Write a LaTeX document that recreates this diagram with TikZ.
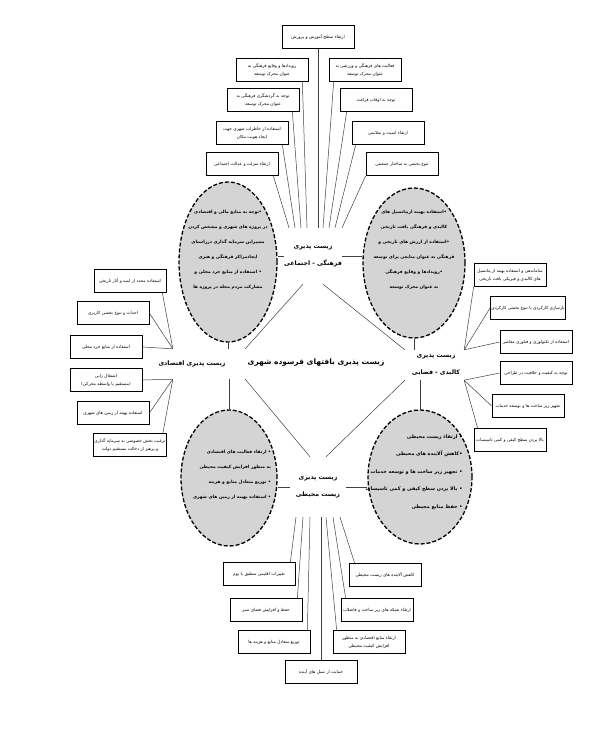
\documentclass[tikz,border=0pt]{standalone}
\usepackage{fontspec}
\usepackage{tikz}
\usetikzlibrary{shapes.geometric}
\newfontfamily\arabicfont[Script=Arabic]{DejaVu Sans}
\TeXXeTstate=1
\newcommand{\rl}[1]{\beginR #1\endR}

\begin{document}
\begin{tikzpicture}[x=1pt,y=-1pt,
    box/.style={draw,line width=0.7pt,minimum width=72pt,minimum height=23pt,inner sep=1pt,align=center,font=\arabicfont\fontsize{4.3}{8}\selectfont},
    blob/.style={ellipse,draw,dash pattern=on 4pt off 2pt,line width=1.3pt,fill=black!17,inner sep=0pt},
    blobtext/.style={inner sep=0pt,font=\arabicfont\bfseries\fontsize{4.4}{15}\selectfont},
    dim/.style={inner sep=0pt,align=center,font=\arabicfont\bfseries\fontsize{6.2}{17}\selectfont},
    link/.style={black!75,line width=0.5pt}]
  \useasboundingbox (0,0) rectangle (597,737);
  \fill[white] (0,0) rectangle (597,737);

  \node[font=\arabicfont\bfseries\fontsize{7.5}{10}\selectfont] (title) at (316,363) {\rl{زیست پذیری بافتهای فرسوده شهری}};

  \node[dim,minimum width=52pt,minimum height=56pt] (top) at (313,256) {\rl{زیست پذیری}\\\rl{فرهنگی - اجتماعی}};
  \node[dim,minimum width=106pt,minimum height=30pt] (ln) at (192,364) {\rl{زیست پذیری اقتصادی}};
  \node[dim,minimum width=62pt,minimum height=30pt] (rn) at (436,365) {\rl{زیست پذیری}\\\rl{کالبدی - فضایی}};
  \node[dim,minimum width=56pt,minimum height=60pt] (bot) at (318,487) {\rl{زیست پذیری}\\\rl{زیست محیطی}};

  \draw[link] (ln.north east) -- ([xshift=-10pt]top.south);
  \draw[link] (rn.north west) -- ([xshift=10pt]top.south);
  \draw[link] (ln.south east) -- ([xshift=-8pt]bot.north);
  \draw[link] (rn.south west) -- ([xshift=8pt]bot.north);

  % dashed ellipses
  \node[blob,minimum width=98pt,minimum height=160pt] (tl) at (228,262) {};
  \node[blob,minimum width=102pt,minimum height=150pt] (tr) at (414,263) {};
  \node[blob,minimum width=96pt,minimum height=136pt] (bl) at (229,478) {};
  \node[blob,minimum width=104pt,minimum height=134pt] (br) at (420,477) {};

  \node[blobtext,align=center] (tltext) at (228,250) {\rl{•توجه به منابع مالی و اقتصادی}\\\rl{در پروژه های شهری و مشخص کردن}\\\rl{مسیراین سرمایه گذاری درراستای}\\\rl{ایجادمراکز فرهنگی و هنری}\\\rl{• استفاده از منابع خرد محلی و}\\\rl{مشارکت مردم محله در پروژه ها}};
  \node[blobtext,align=center] (trtext) at (414,250) {\rl{•استفاده بهینه ازپتانسیل های}\\\rl{کالبدی و فرهنگی بافت تاریخی}\\\rl{•استفاده از ارزش های تاریخی و}\\\rl{فرهنگی به عنوان منابعی برای توسعه}\\\rl{•رویدادها و وقایع فرهنگی}\\\rl{به عنوان محرک توسعه}};
  \node[blobtext,align=right] (bltext) at (232,475) {\rl{• ارتقاء فعالیت های اقتصادی}\\\rl{به منظور افزایش کیفیت محیطی}\\\rl{• توزیع متعادل منابع و هزینه}\\\rl{• استفاده بهینه از زمین های شهری}};
  \node[blobtext,align=right,font=\arabicfont\bfseries\fontsize{4.9}{17.5}\selectfont] (brtext) at (414,472) {\rl{• ارتقاء زیست محیطی}\\\rl{•کاهش آلاینده های محیطی}\\\rl{• تجهیز زیر ساخت ها و توسعه خدمات}\\\rl{• بالا بردن سطح کیفی و کمی تاسیسات}\\\rl{• حفظ منابع محیطی}};

  \draw[link] (top.west) -- (top.west -| tl.east);
  \draw[link] (top.east) -- (top.east -| tr.west);
  \draw[link] (bot.west) -- (bot.west -| bl.east);
  \draw[link] (bot.east) -- (bot.east -| br.west);
  \draw[link] (tl.south) -- (tl.south |- ln.north);
  \draw[link] (bl.north) -- (bl.north |- ln.south);
  \draw[link] (tr.south) -- (tr.south |- rn.north);
  \draw[link] (br.north) -- (br.north |- rn.south);

  % cultural - social
  \node[box] (t0) at (318,37) {\rl{ارتقاء سطح آموزش و پرورش}};
  \node[box] (l1) at (272,70) {\rl{رویدادها و وقایع فرهنگی به}\\\rl{عنوان محرک توسعه}};
  \node[box] (l2) at (263,100) {\rl{توجه به گردشگری فرهنگی به}\\\rl{عنوان محرک توسعه}};
  \node[box] (l3) at (252,133) {\rl{استفاده از خاطرات شهری جهت}\\\rl{ایجاد هویت مکان}};
  \node[box] (l4) at (242,164) {\rl{ارتقاء منزلت و عدالت اجتماعی}};
  \node[box] (r1) at (365,70) {\rl{فعالیت های فرهنگی و ورزشی به}\\\rl{عنوان محرک توسعه}};
  \node[box] (r2) at (376,100) {\rl{توجه به اوقات فراغت}};
  \node[box] (r3) at (388,133) {\rl{ارتقاء امنیت و سلامتی}};
  \node[box] (r4) at (402,164) {\rl{تنوع بخشی به ساختار جمعیتی}};

  \draw[link] (t0.south) -- (t0.south |- top.north);
  \draw[link] ([xshift=-6pt]l1.south east) -- ([xshift=-6pt]top.north);
  \draw[link] ([xshift=-7pt]l2.south east) -- ([xshift=-12pt]top.north);
  \draw[link] ([xshift=-6pt]l3.south east) -- ([xshift=-18pt]top.north);
  \draw[link] ([xshift=-5pt]l4.south east) -- ([xshift=-24pt]top.north);
  \draw[link] ([xshift=5pt]r1.south west) -- ([xshift=10pt]top.north);
  \draw[link] ([xshift=7pt]r2.south west) -- ([xshift=16pt]top.north);
  \draw[link] ([xshift=4pt]r3.south west) -- ([xshift=22pt]top.north);
  \draw[link] (r4.south west) -- (top.north east);

  % economic
  \node[box] (e1) at (130,281) {\rl{استفاده مجدد از ابنیه و آثار تاریخی}};
  \node[box] (e2) at (113,313) {\rl{احداث و تنوع بخشی کاربری}};
  \node[box] (e3) at (106,347) {\rl{استفاده از منابع خرد محلی}};
  \node[box] (e4) at (106,380) {\rl{اشتغال زایی}\\\rl{(مستقیم یا واسطه محرکی)}};
  \node[box] (e5) at (113,413) {\rl{استفاده بهینه از زمین های شهری}};
  \node[box] (e6) at (130,445) {\rl{ترغیب بخش خصوصی به سرمایه گذاری}\\\rl{و پرهیز از دخالت مستقیم دولت}};

  \draw[link] ([xshift=-4pt]e1.south east) -- ([xshift=34pt]ln.north west);
  \draw[link] (e2.east) -- ([xshift=34pt]ln.north west);
  \draw[link] (e3.east) -- ([xshift=34pt]ln.north west);
  \draw[link] (e4.east) -- ([xshift=34pt]ln.south west);
  \draw[link] (e5.east) -- ([xshift=34pt]ln.south west);
  \draw[link] ([xshift=-4pt]e6.north east) -- ([xshift=34pt]ln.south west);

  % physical - spatial
  \node[box] (p1) at (510,275) {\rl{ساماندهی و استفاده بهینه از پتانسیل}\\\rl{های کالبدی و فیزیکی بافت تاریخی}};
  \node[box] (p2) at (528,308) {\rl{بازسازی کارکردی با تنوع بخشی کارکردی}};
  \node[box] (p3) at (536,342) {\rl{استفاده از تکنولوژی و فناوری معاصر}};
  \node[box] (p4) at (536,373) {\rl{توجه به کیفیت و خلاقیت در طراحی}};
  \node[box] (p5) at (528,406) {\rl{تجهیز زیر ساخت ها و توسعه خدمات}};
  \node[box] (p6) at (510,440) {\rl{بالا بردن سطح کیفی و کمی تاسیسات}};

  \draw[link] (p1.south west) -- ([xshift=-3pt]rn.north east);
  \draw[link] (p2.west) -- ([xshift=-3pt]rn.north east);
  \draw[link] (p3.west) -- ([xshift=-3pt]rn.north east);
  \draw[link] (p4.west) -- ([xshift=-3pt]rn.south east);
  \draw[link] (p5.west) -- ([xshift=-3pt]rn.south east);
  \draw[link] ([xshift=4pt]p6.north west) -- ([xshift=-3pt]rn.south east);

  % environmental
  \node[box] (b1) at (259,574) {\rl{تغییرات اقلیمی منطبق با بوم}};
  \node[box] (b2) at (266,610) {\rl{حفظ و افزایش فضای سبز}};
  \node[box] (b3) at (274,642) {\rl{توزیع متعادل منابع و هزینه ها}};
  \node[box] (b0) at (321,672) {\rl{حمایت از نسل های آینده}};
  \node[box] (b4) at (369,642) {\rl{ارتقاء منابع اقتصادی به منظور}\\\rl{افزایش کیفیت محیطی}};
  \node[box] (b5) at (377,610) {\rl{ارتقاء شبکه های زیر ساخت و فاضلاب}};
  \node[box] (b6) at (385,575) {\rl{کاهش آلاینده های زیست محیطی}};

  \draw[link] ([xshift=-5pt]b1.north east) -- ([xshift=-22pt]bot.south);
  \draw[link] ([xshift=-5pt]b2.north east) -- ([xshift=-15pt]bot.south);
  \draw[link] ([xshift=-3pt]b3.north east) -- ([xshift=-8pt]bot.south);
  \draw[link] (b0.north) -- (b0.north |- bot.south);
  \draw[link] ([xshift=4pt]b4.north west) -- ([xshift=8pt]bot.south);
  \draw[link] ([xshift=5pt]b5.north west) -- ([xshift=15pt]bot.south);
  \draw[link] ([xshift=6pt]b6.north west) -- ([xshift=22pt]bot.south);
\end{tikzpicture}
\end{document}
